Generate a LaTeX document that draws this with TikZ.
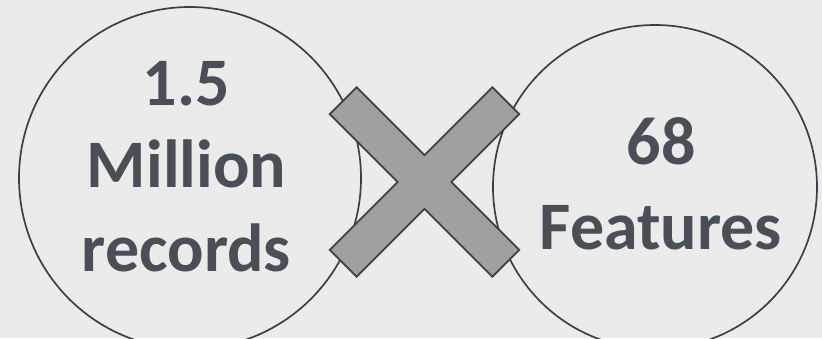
\documentclass[tikz,border=0pt]{standalone}
\usepackage{fontspec}
\setmainfont{Carlito}
\definecolor{bg}{HTML}{EBEBEB}
\definecolor{txt}{HTML}{4A4E57}
\definecolor{ring}{HTML}{3C3F46}
\definecolor{xfill}{HTML}{A0A19F}
\definecolor{xline}{HTML}{3F4046}
\begin{document}
\begin{tikzpicture}[x=1pt,y=1pt,
  ringstyle/.style={circle,draw=ring,line width=1.7pt,inner sep=0pt},
  label/.style={anchor=base,text=txt,font=\fontsize{68}{80}\selectfont\bfseries,inner sep=0pt}]
\fill[bg] (0,0) rectangle (822,338);
\useasboundingbox (0,0) rectangle (822,338);
\node[ringstyle,minimum size=342pt] (left) at (190,160) {};
\node[ringstyle,minimum size=324pt] (right) at (655,151) {};
\begin{scope}[shift={(424.5,156)},rotate=45]
\filldraw[fill=xfill,draw=xline,line width=1.8pt,line join=miter]
  (115,19) -- (19,19) -- (19,115) -- (-19,115) -- (-19,19) -- (-115,19)
  -- (-115,-19) -- (-19,-19) -- (-19,-115) -- (19,-115) -- (19,-19) -- (115,-19) -- cycle;
\end{scope}
\node[label] (l1) at (186.5,233) {1.5};
\node[label] (l2) at (186.5,151) {Million};
\node[label] (l3) at (186.5,67) {records};
\node[label] (r1) at (661,174) {68};
\node[label] (r2) at (661,89) {Features};
\end{tikzpicture}
\end{document}
